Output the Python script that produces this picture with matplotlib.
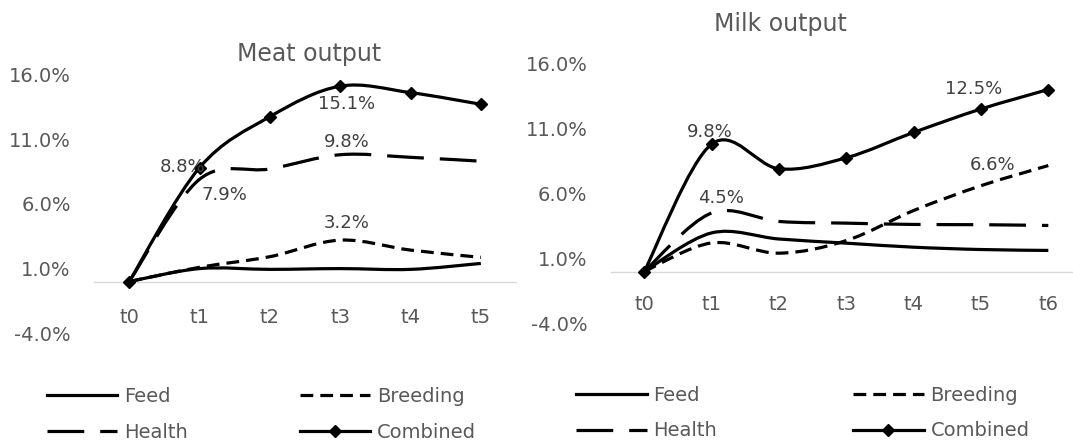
import matplotlib
matplotlib.use("Agg")
import matplotlib.pyplot as plt
from matplotlib.path import Path
from matplotlib.patches import PathPatch
from matplotlib.lines import Line2D

plt.rcParams['font.family'] = ['DejaVu Sans']

# ---------------- data ----------------
meat_periods = ['t0', 't1', 't2', 't3', 't4', 't5']
meat_feed = [0.0, 1.0, 0.94, 1.0, 0.94, 1.4]
meat_breeding = [0.0, 1.1, 1.92, 3.2, 2.43, 1.87]
meat_health = [0.0, 7.9, 8.7, 9.8, 9.6, 9.3]
meat_combined = [0.0, 8.8, 12.74, 15.1, 14.6, 13.7]

milk_periods = ['t0', 't1', 't2', 't3', 't4', 't5', 't6']
milk_feed = [0.0, 2.97, 2.5, 2.18, 1.87, 1.69, 1.62]
milk_breeding = [0.0, 2.2, 1.41, 2.38, 4.69, 6.6, 8.15]
milk_health = [0.0, 4.5, 3.85, 3.72, 3.62, 3.6, 3.54]
milk_combined = [0.0, 9.8, 7.9, 8.75, 10.7, 12.5, 14.0]

y_ticks = [-4, 1, 6, 11, 16]
series_names = ['Feed', 'Breeding', 'Health', 'Combined']

# ---------------- style ----------------
W, H = 1073, 441
TXT = '#595959'
LBL = '#404040'
LW = 2.3
STYLES = {
    'Feed': dict(ls='-'),
    'Breeding': dict(ls=(0, (4.0, 2.2))),
    'Health': dict(ls=(0, (11.5, 5.0))),
    'Combined': dict(ls='-'),
}

fig = plt.figure(figsize=(W / 100, H / 100), dpi=100)


def px_axes(x0, x1, ytop, ybot):
    return fig.add_axes([x0 / W, 1 - ybot / H, (x1 - x0) / W, (ybot - ytop) / H])


def smooth_path(xs, ys):
    pts = list(zip(xs, ys))
    n = len(pts)
    verts = [pts[0]]
    codes = [Path.MOVETO]
    for i in range(n - 1):
        p0 = pts[i - 1] if i > 0 else pts[i]
        p1 = pts[i]
        p2 = pts[i + 1]
        p3 = pts[i + 2] if i + 2 < n else pts[i + 1]
        c1 = (p1[0] + (p2[0] - p0[0]) / 6, p1[1] + (p2[1] - p0[1]) / 6)
        c2 = (p2[0] - (p3[0] - p1[0]) / 6, p2[1] - (p3[1] - p1[1]) / 6)
        verts += [c1, c2, p2]
        codes += [Path.CURVE4] * 3
    return Path(verts, codes)


def draw_chart(ax, periods, data, labels, xpad_pts):
    xs = list(range(len(periods)))
    for name in series_names:
        vals = data[name]
        patch = PathPatch(smooth_path(xs, vals), fill=False, edgecolor='black',
                          lw=LW, linestyle=STYLES[name]['ls'], zorder=3,
                          capstyle='butt', joinstyle='round')
        ax.add_patch(patch)
        if name == 'Combined':
            ax.plot(xs, vals, linestyle='none', marker='D', markersize=6,
                    color='black', zorder=4)
    for name, idx, dx, dy in labels:
        v = data[name][idx]
        ax.annotate(f"{v:.1f}%", xy=(idx, v), xytext=(dx * 0.72, dy * 0.72),
                    textcoords='offset points', ha='center', va='center',
                    fontsize=13, color=LBL, zorder=5)
    ax.set_xlim(-0.5, len(periods) - 0.5)
    ax.set_ylim(-4, 16)
    ax.set_yticks(y_ticks)
    ax.set_yticklabels([f"{t:.1f}%" for t in y_ticks])
    ax.set_xticks(xs)
    ax.set_xticklabels(periods)
    for s in ['top', 'right', 'left']:
        ax.spines[s].set_visible(False)
    ax.spines['bottom'].set_position(('data', 0))
    ax.spines['bottom'].set_color('#d9d9d9')
    ax.spines['bottom'].set_linewidth(1.0)
    ax.tick_params(axis='y', length=0, pad=16.8, labelsize=14, labelcolor=TXT)
    ax.tick_params(axis='x', length=0, pad=xpad_pts, labelsize=14, labelcolor=TXT)
    ax.patch.set_visible(False)


# left chart: Meat output
ax1 = px_axes(94, 516, 74.5, 333.3)
draw_chart(ax1, meat_periods,
           {'Feed': meat_feed, 'Breeding': meat_breeding,
            'Health': meat_health, 'Combined': meat_combined},
           [('Combined', 1, -16.5, 0.9), ('Combined', 3, 6.6, -18.2),
            ('Health', 1, 25.2, -15.7), ('Health', 3, 6.6, 13.0),
            ('Breeding', 3, 6.6, 16.8)],
           xpad_pts=19.0)

# right chart: Milk output
ax2 = px_axes(610.6, 1082, 63.5, 323.5)
draw_chart(ax2, milk_periods,
           {'Feed': milk_feed, 'Breeding': milk_breeding,
            'Health': milk_health, 'Combined': milk_combined},
           [('Combined', 1, -2.3, 12.4), ('Combined', 5, -7.3, 20.0),
            ('Breeding', 5, 11.5, 20.7), ('Health', 1, 9.8, 14.8)],
           xpad_pts=17.0)

fig.text(308.8 / W, 1 - 61.3 / H, 'Meat output', ha='center', va='baseline',
         fontsize=17, color=TXT)
fig.text(780 / W, 1 - 30.5 / H, 'Milk output', ha='center', va='baseline',
         fontsize=17, color=TXT)


# legends
def handle(name):
    if name == 'Combined':
        return Line2D([], [], color='black', lw=LW, marker='D', markersize=6)
    return Line2D([], [], color='black', lw=LW, linestyle=STYLES[name]['ls'])


def legend_entry(name, x, y):
    leg = fig.legend(handles=[handle(name)], labels=[name], loc='center left',
                     bbox_to_anchor=(x / W, 1 - y / H), frameon=False,
                     borderpad=0, borderaxespad=0, handlelength=3.63,
                     handletextpad=0.36, fontsize=14, labelcolor=TXT,
                     numpoints=1)
    return leg


for (x0, x1, y0, y1) in [(46.5, 299.6, 396.5, 432.0), (576, 853, 395.5, 431.0)]:
    legend_entry('Feed', x0, y0)
    legend_entry('Breeding', x1, y0)
    legend_entry('Health', x0, y1)
    legend_entry('Combined', x1, y1)

fig.savefig('out.png', dpi=100)
